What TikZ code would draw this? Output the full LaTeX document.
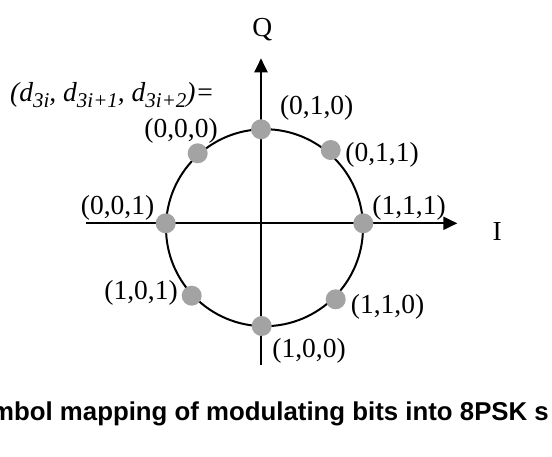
\documentclass[tikz,border=0pt]{standalone}
\usepackage{fontspec}
\setmainfont{Liberation Serif}
\newfontfamily\capfont{Liberation Sans}
\usetikzlibrary{arrows.meta}
\definecolor{dotgray}{HTML}{A3A3A3}
\newcommand{\sbs}[1]{\raisebox{-0.25em}{\fontsize{21}{21}\selectfont #1}}
\begin{document}
\begin{tikzpicture}[x=1pt,y=-1pt,
  axis/.style={line width=2pt,-{Triangle[length=14pt,width=13pt]}},
  ring/.style={line width=2pt},
  dot/.style={circle,fill=dotgray,minimum size=20pt,inner sep=0pt},
  lab/.style={font=\fontsize{27.5}{30}\selectfont,inner sep=0pt},
  captext/.style={font=\capfont\bfseries\fontsize{25.8}{30}\selectfont,inner sep=0pt}]
\useasboundingbox (0,0) rectangle (552,456);
\clip (0,0) rectangle (552,456);
% axes
\coordinate (hl) at (86,223.3);
\coordinate (hr) at (457.3,223.3);
\coordinate (vb) at (261,365);
\coordinate (vt) at (261,58.3);
\draw[axis] (hl) -- (hr);
\draw[axis] (vb) -- (vt);
% circle
\coordinate (c) at (264.5,227.7);
\draw[ring] (c) circle [radius=98.5pt];
% dots
\node[dot] (d000) at (197.7,153.3) {};
\node[dot] (d010) at (261,129.3) {};
\node[dot] (d011) at (330.7,150) {};
\node[dot] (d111) at (363.3,223.3) {};
\node[dot] (d110) at (335.7,299.3) {};
\node[dot] (d100) at (261.7,326) {};
\node[dot] (d101) at (191.7,295.7) {};
\node[dot] (d001) at (165.7,223.3) {};
% labels
\node[lab] (l000) at (181,131) {(0,0,0)};
\node[lab] (l010) at (316.7,108) {(0,1,0)};
\node[lab] (l011) at (382,155) {(0,1,1)};
\node[lab] (l111) at (409,208) {(1,1,1)};
\node[lab] (l001) at (117.5,208) {(0,0,1)};
\node[lab] (l101) at (141,293) {(1,0,1)};
\node[lab] (l110) at (387.5,306.7) {(1,1,0)};
\node[lab] (l100) at (309,351) {(1,0,0)};
\node[lab,anchor=base] (q) at (262.3,36) {Q};
\node[lab,anchor=base] (i) at (497.3,240) {I};
\node[lab,anchor=base west] (eq) at (10,101) {\itshape (d\sbs{3i}, d\sbs{3i+1}, d\sbs{3i+2})=};
% caption
\node[captext,anchor=base west] (caption) at (-9,420) {mbol mapping of modulating bits into 8PSK s};
\end{tikzpicture}
\end{document}
